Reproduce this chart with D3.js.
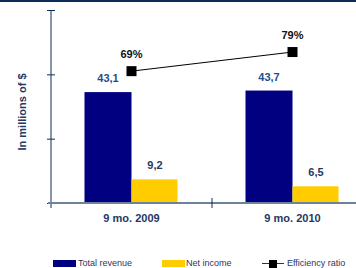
<html>
<head>
<style>
  body { margin:0; background:#fff; font-family:"Liberation Sans", Arial, sans-serif; }
</style>
</head>
<body>
<svg></svg>
<script src="https://cdnjs.cloudflare.com/ajax/libs/d3/7.8.5/d3.min.js"></script>
<script>
const periods = ["9 mo. 2009", "9 mo. 2010"];
const revenue = [43.1, 43.7];
const netIncome = [9.2, 6.5];
const efficiency = [69, 79];
const yTicks = [0, 25, 50, 75];

const width = 356, height = 268;
const margin = {top: 10, right: 0, bottom: 65, left: 51};
const fmt = v => String(v).replace(".", ",");

const svg = d3.select("svg").attr("width", width).attr("height", height);

// top border stripe
svg.append("rect").attr("x", 0).attr("y", 0).attr("width", width).attr("height", 2).attr("fill", "#0b2d5b");

const x = d3.scaleBand().domain(periods).range([51, 373]).paddingInner(0).paddingOuter(0);
const y = d3.scaleLinear().domain([0, 75]).range([203, 10]);
const y2 = d3.scaleLinear().domain([0, 101]).range([203, 10]);
const barW = 47;
const center = d => x(d) + x.bandwidth() / 2;

// y axis, no labels
svg.append("g")
  .attr("transform", "translate(51,0)")
  .call(d3.axisLeft(y).tickValues(yTicks).tickSize(4).tickFormat(""))
  .call(g => g.select(".domain").attr("stroke", "#0b2d5b").attr("d", "M0,10V208"))
  .call(g => g.selectAll(".tick line").attr("stroke", "#0b2d5b").attr("x1", -4).attr("x2", 4));

// bars
svg.selectAll(".rev").data(periods).enter().append("rect")
  .attr("x", d => center(d) - barW).attr("width", barW)
  .attr("y", (d, i) => y(revenue[i])).attr("height", (d, i) => y(0) - y(revenue[i]))
  .attr("fill", "#000080");
svg.selectAll(".ni").data(periods).enter().append("rect")
  .attr("x", d => center(d)).attr("width", barW - 1)
  .attr("y", (d, i) => y(netIncome[i])).attr("height", (d, i) => y(0) - y(netIncome[i]))
  .attr("fill", "#ffcc00");

// baseline and category ticks
svg.append("line").attr("x1", 48).attr("x2", width).attr("y1", y(0)).attr("y2", y(0))
  .attr("stroke", "#6e8299").attr("stroke-width", 2);
svg.append("line").attr("x1", 212).attr("x2", 212).attr("y1", 198).attr("y2", 208)
  .attr("stroke", "#0b2d5b");

// data labels
svg.selectAll(".revl").data(periods).enter().append("text")
  .attr("x", d => center(d) - barW / 2).attr("y", (d, i) => y(revenue[i]) - 10)
  .attr("text-anchor", "middle").attr("font-size", 11).attr("font-weight", "bold")
  .attr("fill", "#1f4e8c").text((d, i) => fmt(revenue[i]));
svg.selectAll(".nil").data(periods).enter().append("text")
  .attr("x", d => center(d) + barW / 2).attr("y", (d, i) => y(netIncome[i]) - 10)
  .attr("text-anchor", "middle").attr("font-size", 11).attr("font-weight", "bold")
  .attr("fill", "#1f3864").text((d, i) => fmt(netIncome[i]));

// efficiency line
const line = d3.line().x(d => center(d)).y((d, i) => y2(efficiency[i]));
svg.append("path").datum(periods).attr("d", line).attr("fill", "none").attr("stroke", "#000").attr("stroke-width", 1);
svg.selectAll(".mk").data(periods).enter().append("rect")
  .attr("x", d => center(d) - 5).attr("y", (d, i) => y2(efficiency[i]) - 5)
  .attr("width", 10).attr("height", 10).attr("fill", "#000");
svg.selectAll(".effl").data(periods).enter().append("text")
  .attr("x", d => center(d)).attr("y", (d, i) => y2(efficiency[i]) - 13)
  .attr("text-anchor", "middle").attr("font-size", 11).attr("font-weight", "bold")
  .attr("fill", "#111").text((d, i) => efficiency[i] + "%");

// category labels
svg.selectAll(".cat").data(periods).enter().append("text")
  .attr("x", d => center(d)).attr("y", 222)
  .attr("text-anchor", "middle").attr("font-size", 11).attr("font-weight", "bold")
  .attr("fill", "#1f3864").text(d => d);

// y title
svg.append("text").attr("transform", "translate(26,112) rotate(-90)")
  .attr("text-anchor", "middle").attr("font-size", 11).attr("font-weight", "bold")
  .attr("fill", "#1f3864").text("In millions of $");

// legend
const lg = svg.append("g").attr("font-size", 9).attr("fill", "#1f3864");
lg.append("rect").attr("x", 53).attr("y", 260).attr("width", 23).attr("height", 7).attr("fill", "#000080");
lg.append("text").attr("x", 78).attr("y", 266).text("Total revenue");
lg.append("rect").attr("x", 162).attr("y", 260).attr("width", 23).attr("height", 7).attr("fill", "#ffcc00");
lg.append("text").attr("x", 186).attr("y", 266).text("Net income");
lg.append("line").attr("x1", 262).attr("x2", 284).attr("y1", 263.5).attr("y2", 263.5).attr("stroke", "#333").attr("stroke-width", 1);
lg.append("rect").attr("x", 269).attr("y", 260).attr("width", 8).attr("height", 8).attr("fill", "#000");
lg.append("text").attr("x", 287).attr("y", 266).text("Efficiency ratio");
</script>
</body>
</html>
